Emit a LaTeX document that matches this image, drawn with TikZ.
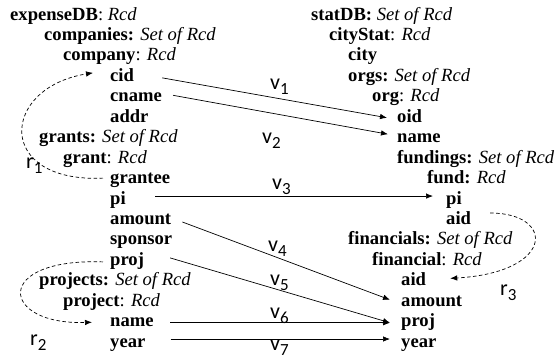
\documentclass[tikz,border=0pt]{standalone}
\usepackage{fontspec}
\setmainfont{Liberation Serif}
\newfontfamily\labfont{Carlito}
\usetikzlibrary{calc,arrows.meta}
\newcommand\lbl[2]{{\labfont\fontsize{22}{22}\selectfont #1\raisebox{-5pt}{\fontsize{17}{17}\selectfont #2}}}
\tikzset{
  txt/.style={anchor=base west, inner sep=0pt, text height=13pt, text depth=4pt, font=\fontsize{18.6}{20}\selectfont},
  lab/.style={anchor=base west, inner sep=0pt},
  map/.style={line width=0.7pt, -{Latex[length=7pt,width=5.5pt]}},
  ref/.style={line width=0.7pt, dash pattern=on 3.5pt off 2.5pt, -{Latex[length=7pt,width=5.5pt]}}
}
\begin{document}
\begin{tikzpicture}[x=1pt,y=-1pt]
\useasboundingbox (0,0) rectangle (555,360);
% left schema
\node[txt] (eDB)       at (10,20)     {\textbf{expenseDB}: \textit{Rcd}};
\node[txt] (companies) at (44,40.45)  {\textbf{companies:} \textit{Set of Rcd}};
\node[txt] (company)   at (63,60.9)   {\textbf{company}: \textit{Rcd}};
\node[txt] (cid)       at (110,81.35) {\textbf{cid}};
\node[txt] (cname)     at (110,101.8) {\textbf{cname}};
\node[txt] (addr)      at (110,122.25){\textbf{addr}};
\node[txt] (grants)    at (39,142.7)  {\textbf{grants:} \textit{Set of Rcd}};
\node[txt] (grant)     at (63,163.15) {\textbf{grant}: \textit{Rcd}};
\node[txt] (grantee)   at (110,183.6) {\textbf{grantee}};
\node[txt] (lpi)       at (110,204.05){\textbf{pi}};
\node[txt] (lamount)   at (110,224.5) {\textbf{amount}};
\node[txt] (sponsor)   at (110,244.95){\textbf{sponsor}};
\node[txt] (lproj)     at (110,265.4) {\textbf{proj}};
\node[txt] (projects)  at (39,285.85) {\textbf{projects:} \textit{Set of Rcd}};
\node[txt] (project)   at (63,306.3)  {\textbf{project}: \textit{Rcd}};
\node[txt] (lname)     at (110,326.75){\textbf{name}};
\node[txt] (lyear)     at (110,347.2) {\textbf{year}};
% right schema
\node[txt] (sDB)        at (311,20)     {\textbf{statDB:} \textit{Set of Rcd}};
\node[txt] (cityStat)   at (329,40.45)  {\textbf{cityStat}: \textit{Rcd}};
\node[txt] (city)       at (348,60.9)   {\textbf{city}};
\node[txt] (orgs)       at (348,81.35)  {\textbf{orgs:} \textit{Set of Rcd}};
\node[txt] (org)        at (372,101.8)  {\textbf{org}: \textit{Rcd}};
\node[txt] (oid)        at (397,122.25) {\textbf{oid}};
\node[txt] (rname)      at (397,142.7)  {\textbf{name}};
\node[txt] (fundings)   at (397,163.15) {\textbf{fundings:} \textit{Set of Rcd}};
\node[txt] (fund)       at (427,183.6)  {\textbf{fund:} \textit{Rcd}};
\node[txt] (rpi)        at (446,204.05) {\textbf{pi}};
\node[txt] (aidA)       at (446,224.5)  {\textbf{aid}};
\node[txt] (financials) at (348,244.95) {\textbf{financials:} \textit{Set of Rcd}};
\node[txt] (financial)  at (372,265.4)  {\textbf{financial}: \textit{Rcd}};
\node[txt] (aidB)       at (401,285.85) {\textbf{aid}};
\node[txt] (ramount)    at (401,306.3)  {\textbf{amount}};
\node[txt] (rproj)      at (401,326.75) {\textbf{proj}};
\node[txt] (ryear)      at (401,347.2)  {\textbf{year}};
% mappings
\draw[map] ($(cid.east)+(28,1)$) -- ($(oid.west)+(-10,0)$);
\draw[map] ($(cname.east)+(11,-2)$) -- ($(rname.west)+(-9,-4)$);
\draw[map] ($(lpi.east)+(29.5,-3.5)$) -- ($(rpi.west)+(-13,-3.5)$);
\draw[map] ($(lamount.east)+(11,2)$) -- ($(ramount.west)+(-11,-2)$);
\draw[map] ($(lproj.east)+(26,-3)$) -- ($(rproj.west)+(-11,0.5)$);
\draw[map] ($(lname.east)+(16.6,0.5)$) -- ($(rproj.west)+(-11,0.5)$);
\draw[map] ($(lyear.east)+(25,-3.7)$) -- ($(ryear.west)+(-11,-3.7)$);
% references
\draw[ref] ($(grantee.west)+(-7,-1)$) .. controls +(-108,5) and +(-93,15) .. ($(cid.west)+(-17,-4)$);
\draw[ref] ($(lproj.west)+(-7,1)$) .. controls +(-111,-4) and +(-92,3) .. ($(lname.west)+(-18,0)$);
\draw[ref] ($(aidA.east)+(19,-7)$) .. controls +(65,0) and +(105,-6) .. ($(aidB.east)+(24,-3)$);
% labels
\node[lab] (v1) at (270,89)  {\lbl{v}{1}};
\node[lab] (v2) at (262,143) {\lbl{v}{2}};
\node[lab] (v3) at (272,189) {\lbl{v}{3}};
\node[lab] (v4) at (268,251) {\lbl{v}{4}};
\node[lab] (v5) at (270,285) {\lbl{v}{5}};
\node[lab] (v6) at (270,318) {\lbl{v}{6}};
\node[lab] (v7) at (270,350) {\lbl{v}{7}};
\node[lab] (r1) at (26,168)  {\lbl{r}{1}};
\node[lab] (r2) at (30,345)  {\lbl{r}{2}};
\node[lab] (r3) at (500,295) {\lbl{r}{3}};
\end{tikzpicture}
\end{document}
